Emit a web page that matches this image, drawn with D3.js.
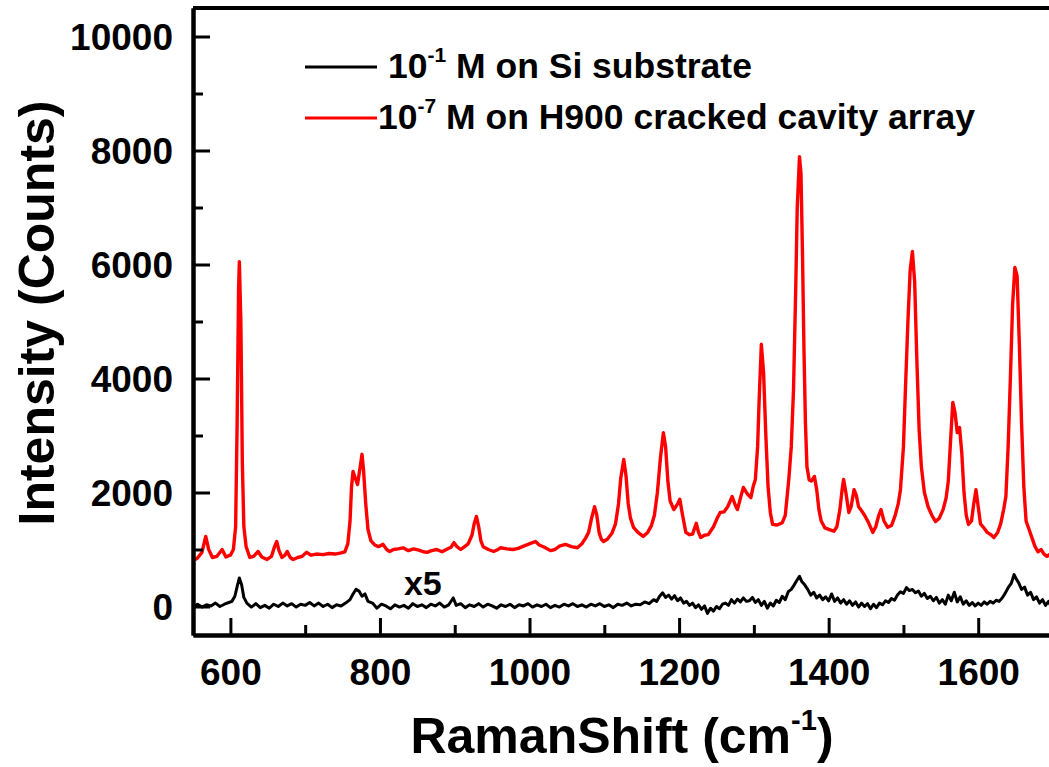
<!DOCTYPE html>
<html>
<head>
<meta charset="utf-8">
<script src="https://cdn.jsdelivr.net/npm/d3@7"></script>
<style>
    body { margin: 0; background: #fff; }
    svg { display: block; }
    text { font-family: "Liberation Sans", Arial, sans-serif; font-weight: bold; fill: #000; }
</style>
</head>
<body>
<div id="chart"></div>
<script>
// red spectrum: 10^-7 M on H900 cracked cavity array  [shift, counts]
var redSpectrum = [
    [550, 800],[556, 850],[562, 950],[567, 1230],[571, 1000],[576, 860],[582, 880],[589, 1000],[594, 870],
    [600, 900],[604, 1000],[607, 1400],[609, 3200],[611, 5600],[612, 6050],[614, 5000],[616, 2500],[618, 1400],
    [621, 1050],[626, 860],[631, 880],[637, 965],[642, 870],[649, 825],[655, 880],[659, 1050],[662, 1140],
    [665, 980],[669, 860],[673, 900],[676, 965],[680, 860],[684, 825],[690, 860],[696, 880],[702, 950],
    [708, 900],[715, 920],[724, 910],[732, 930],[740, 920],[748, 940],[753, 960],[757, 1100],[760, 1500],
    [762, 2100],[764, 2370],[767, 2250],[770, 2140],[773, 2400],[776, 2670],[778, 2400],[781, 1800],[784, 1350],
    [788, 1150],[793, 1080],[798, 1050],[804, 1090],[809, 1000],[813, 965],[818, 1000],[824, 1010],[831, 1030],
    [838, 980],[845, 1010],[852, 990],[858, 960],[863, 950],[869, 980],[876, 1000],[883, 960],[890, 1010],
    [895, 1040],[899, 1120],[903, 1050],[908, 1000],[911, 1030],[918, 1100],[923, 1250],[926, 1450],[929, 1580],
    [932, 1400],[935, 1150],[938, 1050],[945, 1000],[952, 965],[958, 1000],[961, 1030],[970, 1010],[978, 1000],
    [985, 1020],[992, 1060],[998, 1090],[1004, 1120],[1008, 1140],[1013, 1080],[1020, 1040],[1028, 980],[1034, 1000],
    [1040, 1060],[1048, 1090],[1056, 1050],[1064, 1030],[1070, 1100],[1075, 1200],[1079, 1300],[1083, 1550],[1087, 1750],
    [1090, 1600],[1093, 1300],[1096, 1180],[1099, 1140],[1104, 1180],[1110, 1280],[1115, 1450],[1119, 1800],[1122, 2250],
    [1126, 2580],[1129, 2300],[1132, 1800],[1135, 1550],[1139, 1390],[1145, 1300],[1152, 1230],[1158, 1300],[1163, 1420],
    [1167, 1600],[1171, 2000],[1175, 2600],[1179, 3050],[1182, 2800],[1185, 2200],[1188, 1850],[1193, 1700],[1198, 1800],
    [1201, 1880],[1204, 1650],[1209, 1300],[1214, 1260],[1218, 1270],[1223, 1460],[1226, 1300],[1229, 1210],[1234, 1250],
    [1239, 1260],[1246, 1400],[1251, 1550],[1255, 1650],[1260, 1660],[1265, 1750],[1271, 1930],[1275, 1780],[1278, 1700],
    [1283, 1950],[1286, 2090],[1290, 2000],[1293, 1950],[1296, 1910],[1299, 2100],[1302, 2230],[1305, 2800],[1307, 3600],
    [1310, 4600],[1313, 4100],[1316, 3000],[1319, 2100],[1322, 1650],[1325, 1440],[1331, 1430],[1338, 1470],[1342, 1600],
    [1345, 2000],[1347, 2280],[1350, 2800],[1353, 3800],[1356, 5600],[1358, 7000],[1361, 7890],[1363, 7600],[1365, 6200],
    [1367, 4500],[1369, 3200],[1371, 2450],[1374, 2220],[1377, 2200],[1381, 2280],[1384, 2050],[1387, 1700],[1390, 1500],
    [1395, 1380],[1401, 1350],[1407, 1320],[1411, 1400],[1415, 1700],[1418, 2050],[1420, 2230],[1423, 2000],[1427, 1650],
    [1430, 1750],[1434, 2050],[1437, 1950],[1440, 1750],[1443, 1700],[1448, 1600],[1453, 1480],[1459, 1300],[1463, 1400],
    [1467, 1600],[1470, 1700],[1474, 1500],[1479, 1390],[1484, 1420],[1489, 1600],[1493, 1800],[1496, 2050],[1500, 2800],
    [1503, 3930],[1506, 5000],[1509, 5900],[1512, 6230],[1515, 5700],[1518, 4300],[1521, 3100],[1524, 2450],[1528, 2000],
    [1533, 1750],[1538, 1600],[1543, 1490],[1548, 1550],[1553, 1700],[1557, 1900],[1560, 2200],[1563, 2900],[1566, 3580],
    [1569, 3400],[1572, 3050],[1575, 3140],[1578, 2700],[1581, 2000],[1584, 1600],[1587, 1440],[1591, 1500],[1594, 1800],
    [1597, 2050],[1600, 1750],[1603, 1450],[1607, 1390],[1612, 1300],[1617, 1260],[1621, 1210],[1626, 1300],[1630, 1450],
    [1634, 1700],[1637, 1930],[1640, 2800],[1643, 4000],[1646, 5300],[1649, 5950],[1652, 5800],[1655, 4600],[1658, 3200],
    [1661, 2100],[1664, 1500],[1668, 1350],[1672, 1200],[1676, 1050],[1680, 960],[1684, 1000],[1688, 920],[1692, 880],
    [1695, 910],[1700, 880]
];

// black spectrum (x5): 10^-1 M on Si substrate  [shift, counts]
var blackSpectrum = [
    [550, -20],[556, 40],[562, -10],[568, 30],[574, 10],[580, 60],[586, 0],[592, 40],[598, 70],[602, 90],
    [606, 180],[609, 350],[612, 500],[615, 380],[618, 160],[622, 60],[628, -10],[634, 50],[640, -20],[646, 20],
    [652, -30],[658, 40],[664, 0],[670, 60],[676, 10],[682, 50],[688, -10],[694, 40],[700, 20],[706, 70],
    [712, 10],[718, 60],[724, 0],[730, 40],[736, -20],[742, 30],[748, 10],[754, 60],[760, 120],[764, 220],
    [768, 300],[772, 270],[776, 180],[780, 220],[784, 90],[790, 60],[796, -30],[802, 40],[808, 10],[814, -40],
    [820, 30],[826, -10],[832, 20],[838, -30],[844, 50],[850, 0],[856, 30],[862, -20],[868, 40],[874, 10],
    [880, 60],[886, -10],[892, 30],[898, 150],[902, 20],[908, 50],[914, -20],[920, 30],[926, 0],[932, 50],
    [938, -10],[944, 40],[950, 10],[956, -30],[962, 30],[968, 0],[974, 40],[980, -20],[986, 30],[992, 10],
    [998, 50],[1004, -10],[1010, 30],[1016, 0],[1022, 40],[1028, -20],[1034, 20],[1040, -10],[1046, 40],[1052, 10],
    [1058, 50],[1064, 0],[1070, 30],[1076, -10],[1082, 40],[1088, 10],[1094, 50],[1100, 0],[1106, 30],[1112, -20],
    [1118, 40],[1124, 20],[1130, 60],[1136, 10],[1142, 40],[1148, 30],[1154, 80],[1160, 50],[1166, 120],[1170, 90],
    [1174, 180],[1178, 240],[1182, 160],[1186, 200],[1190, 130],[1194, 190],[1198, 100],[1202, 150],[1206, 60],[1210, 90],
    [1214, 20],[1218, 60],[1222, -20],[1226, 30],[1230, -50],[1234, 10],[1238, -120],[1242, -30],[1246, -80],[1250, 0],
    [1254, -40],[1258, 40],[1262, 60],[1266, 20],[1270, 120],[1274, 60],[1278, 130],[1282, 80],[1286, 150],[1290, 90],
    [1294, 100],[1298, 160],[1302, 70],[1306, 120],[1310, 20],[1314, 90],[1318, -30],[1322, 60],[1326, 10],[1330, 110],
    [1334, 70],[1338, 180],[1342, 120],[1346, 260],[1350, 300],[1354, 380],[1358, 470],[1361, 530],[1364, 440],[1368, 380],
    [1372, 300],[1376, 200],[1380, 250],[1384, 150],[1388, 200],[1392, 120],[1396, 170],[1400, 100],[1404, 220],[1408, 90],
    [1412, 150],[1416, 60],[1420, 120],[1424, 40],[1428, 100],[1432, 20],[1436, 80],[1440, -10],[1444, 60],[1448, 0],
    [1452, 50],[1456, -40],[1460, 40],[1464, -20],[1468, 60],[1472, 30],[1476, 100],[1480, 70],[1484, 140],[1488, 110],
    [1492, 200],[1496, 260],[1500, 230],[1504, 330],[1508, 280],[1512, 300],[1516, 240],[1520, 270],[1524, 180],[1528, 230],
    [1532, 140],[1536, 180],[1540, 100],[1544, 160],[1548, 60],[1552, 120],[1556, 40],[1560, 200],[1564, 100],[1568, 250],
    [1572, 80],[1576, 170],[1580, 40],[1584, 100],[1588, 20],[1592, 70],[1596, 10],[1600, 60],[1604, 20],[1608, 80],
    [1612, 40],[1616, 90],[1620, 60],[1624, 110],[1628, 90],[1632, 150],[1636, 230],[1640, 330],[1644, 400],[1648, 560],
    [1651, 480],[1654, 420],[1658, 300],[1662, 340],[1666, 200],[1670, 250],[1674, 120],[1678, 170],[1682, 60],[1686, 120],
    [1690, 20],[1694, 90],[1698, -20],[1700, 40]
];

var xMajorTicks = [600, 800, 1000, 1200, 1400, 1600];
var xMinorTicks = [700, 900, 1100, 1300, 1500, 1700];
var yMajorTicks = [0, 2000, 4000, 6000, 8000, 10000];
var yMinorTicks = [1000, 3000, 5000, 7000, 9000];

var legendItems = [
    {color: "#000000", base: "10", sup: "-1", rest: " M on Si substrate"},
    {color: "#ff0000", base: "10", sup: "-7", rest: " M on H900 cracked cavity array"}
];

// set the dimensions and margins of the graph
var W = 1049, H = 767;
var margin = {top: 8, right: -4, bottom: 132, left: 193};
var width = W - margin.left - margin.right;
var height = H - margin.top - margin.bottom;

var x = d3.scaleLinear().domain([550, 1700]).range([0, width]);
var y = d3.scaleLinear().domain([-500, 10500]).range([height, 0]);

var svg = d3.select("#chart").append("svg")
        .attr("width", W)
        .attr("height", H);

var g = svg.append("g")
        .attr("transform", "translate(" + margin.left + "," + margin.top + ")");

// spectra
var line = d3.line()
        .x(function(d) { return x(d[0]); })
        .y(function(d) { return y(d[1]); });

g.append("path")
        .datum(blackSpectrum)
        .attr("fill", "none")
        .attr("stroke", "#000")
        .attr("stroke-width", 3)
        .attr("stroke-linejoin", "round")
        .attr("d", line);

g.append("path")
        .datum(redSpectrum)
        .attr("fill", "none")
        .attr("stroke", "#ff0000")
        .attr("stroke-width", 3.4)
        .attr("stroke-linejoin", "round")
        .attr("d", line);

// X axis (ticks pointing inward)
var fmt = d3.format("d");
var xAxis = g.append("g")
        .attr("transform", "translate(0," + height + ")")
        .call(d3.axisBottom(x).tickValues(xMajorTicks).tickFormat(fmt).tickSize(-17).tickPadding(24).tickSizeOuter(0));
g.append("g")
        .attr("transform", "translate(0," + height + ")")
        .call(d3.axisBottom(x).tickValues(xMinorTicks).tickSize(-10).tickFormat("").tickSizeOuter(0));

// Y axis
var yAxis = g.append("g")
        .call(d3.axisLeft(y).tickValues(yMajorTicks).tickFormat(fmt).tickSize(-17).tickPadding(20).tickSizeOuter(0));
g.append("g")
        .call(d3.axisLeft(y).tickValues(yMinorTicks).tickSize(-10).tickFormat("").tickSizeOuter(0));

g.selectAll(".tick line").attr("stroke", "#000").attr("stroke-width", 3);
g.selectAll(".domain").attr("stroke", "#000").attr("stroke-width", 4);
g.selectAll(".tick text")
        .style("font-size", "37px")
        .style("font-family", "'Liberation Sans', Arial, sans-serif")
        .style("font-weight", "bold");
xAxis.selectAll(".tick text").attr("dy", "0.71em");
yAxis.selectAll(".tick text").attr("dy", "0.36em");

// top frame line
g.append("line")
        .attr("x1", 0).attr("x2", width)
        .attr("y1", 0).attr("y2", 0)
        .attr("stroke", "#000").attr("stroke-width", 4);

// x5 label for the black trace
g.append("text")
        .attr("x", x(832))
        .attr("y", y(210))
        .style("font-size", "34px")
        .text("x5");

// legend
var legend = g.selectAll(".legend")
        .data(legendItems)
        .enter().append("g")
        .attr("class", "legend")
        .attr("transform", function(d, i) { return "translate(112," + (59 + i * 51) + ")"; });

legend.append("line")
        .attr("x1", 0).attr("x2", 72)
        .attr("y1", 0).attr("y2", 0)
        .attr("stroke", function(d) { return d.color; })
        .attr("stroke-width", 3);

var lt = legend.append("text")
        .attr("x", function(d, i) { return i === 0 ? 83 : 73; })
        .attr("y", 11)
        .style("font-size", "35.5px");
lt.append("tspan").text(function(d) { return d.base; });
lt.append("tspan").attr("dy", -16).style("font-size", "21px").text(function(d) { return d.sup; });
lt.append("tspan").attr("dy", 16).text(function(d) { return d.rest; });

// axis titles
svg.append("text")
        .attr("transform", "translate(54," + 313 + ") rotate(-90)")
        .style("text-anchor", "middle")
        .style("font-size", "50px")
        .text("Intensity (Counts)");

var xt = svg.append("text")
        .attr("x", 622)
        .attr("y", 753)
        .style("text-anchor", "middle")
        .style("font-size", "50px");
xt.append("tspan").text("RamanShift (cm");
xt.append("tspan").attr("dy", -23).style("font-size", "29px").text("-1");
xt.append("tspan").attr("dy", 23).text(")");
</script>
</body>
</html>
